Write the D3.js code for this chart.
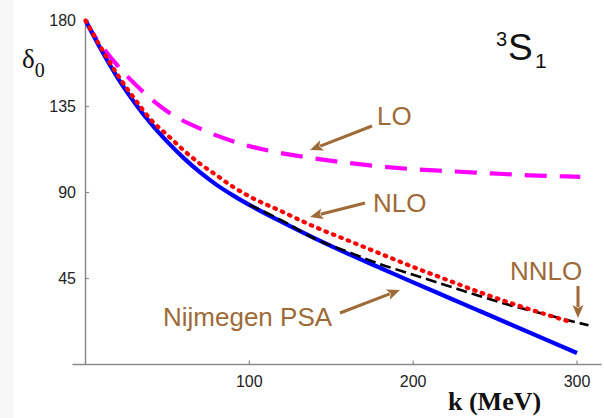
<!DOCTYPE html>
<meta charset="utf-8">
<head>
    <title>3S1 phase shift</title>
    <script src="https://cdn.jsdelivr.net/npm/d3@7/dist/d3.min.js"></script>
    <style>
        body { margin: 0; background: #fff; }
        svg { display: block; }
        .tick-label { font-family: Arial, "Liberation Sans", sans-serif; font-size: 16px; fill: #222; }
        .note { font-family: Arial, "Liberation Sans", sans-serif; font-size: 26px; fill: #9e6a38; }
    </style>
</head>
<body>
<div id="chart"></div>
<script>
    // data (k in MeV, phase shift in degrees)
    const kBlue = [0, 10, 20, 30, 40, 50, 60, 70, 80, 90, 100, 120, 140, 160, 180, 200, 220, 240, 260, 280, 300];
    const nijmegen = [180, 164, 149.5, 137, 126, 116.5, 108, 100.5, 94, 88.5, 83.5, 74.5, 66, 58, 50.5, 43, 35.6, 28.2, 20.8, 13.4, 6];

    const kLO = [0, 4, 17, 33, 50, 71, 93, 114, 136, 158, 181, 203, 226, 248, 271, 294, 302];
    const lo = [180, 174, 159, 144.4, 132.4, 123, 116, 111.5, 108.3, 105.7, 103.6, 102, 101, 100, 99, 98.4, 98.2];

    const kNLO = [0, 10, 20, 30, 40, 50, 60, 70, 80, 90, 100, 120, 140, 160, 180, 200, 220, 240, 260, 280, 297];
    const nlo = [180, 165, 151, 139, 128, 120, 112, 105, 99, 93, 88, 80, 72, 65, 58, 51, 44.5, 38, 32, 26.5, 22];

    const kNNLO = [100, 120, 140, 160, 180, 200, 220, 240, 260, 280, 300, 307];
    const nnlo = [83.6, 75.3, 65.8, 59, 52.5, 47, 41.5, 36, 30.8, 26.4, 22, 20.5];

    const xTicks = [100, 200, 300];
    const yTicks = [45, 90, 135, 180];

    const width = 604, height = 418;
    const brown = "#9e6a38";

    const svg = d3.select("#chart").append("svg")
        .attr("width", width)
        .attr("height", height);

    // faint strip at the left edge
    svg.append("rect").attr("x", 0).attr("y", 0).attr("width", 14).attr("height", height).attr("fill", "#f7f7f7");

    const x = d3.scaleLinear().domain([0, 300]).range([85.5, 577]);
    const y = d3.scaleLinear().domain([0, 180]).range([364.5, 20.5]);

    // axes
    const axisColor = "#8a8a8a";
    svg.append("line")
        .attr("x1", x(-8)).attr("x2", x(315))
        .attr("y1", y(0)).attr("y2", y(0))
        .attr("stroke", axisColor).attr("stroke-width", 1.5);
    svg.append("line")
        .attr("x1", x(0)).attr("x2", x(0))
        .attr("y1", y(0)).attr("y2", y(180))
        .attr("stroke", axisColor).attr("stroke-width", 1.5);

    svg.selectAll(".xt").data(xTicks).enter().append("line")
        .attr("x1", d => x(d)).attr("x2", d => x(d))
        .attr("y1", y(0)).attr("y2", y(0) - 4)
        .attr("stroke", axisColor).attr("stroke-width", 1.2);
    svg.selectAll(".xl").data(xTicks).enter().append("text")
        .attr("class", "tick-label")
        .attr("x", d => x(d)).attr("y", 387)
        .attr("text-anchor", "middle")
        .text(d => d);

    svg.selectAll(".yt").data(yTicks).enter().append("line")
        .attr("x1", x(0)).attr("x2", x(0) + 3.5)
        .attr("y1", d => y(d)).attr("y2", d => y(d))
        .attr("stroke", axisColor).attr("stroke-width", 1.2);
    svg.selectAll(".yl").data(yTicks).enter().append("text")
        .attr("class", "tick-label")
        .attr("x", 76).attr("y", d => y(d))
        .attr("dy", "0.36em")
        .attr("text-anchor", "end")
        .text(d => d);

    // curves
    const line = d3.line()
        .x(d => x(d[0]))
        .y(d => y(d[1]))
        .curve(d3.curveMonotoneX);

    const zip = (ks, vs) => ks.map((k, i) => [k, vs[i]]);

    svg.append("path")
        .attr("d", line(zip(kLO, lo)))
        .attr("fill", "none").attr("stroke", "#ff00ff")
        .attr("stroke-width", 4.2)
        .attr("stroke-dasharray", "22 13");

    svg.append("path")
        .attr("d", line(zip(kBlue, nijmegen)))
        .attr("fill", "none").attr("stroke", "#0000ff")
        .attr("stroke-width", 4.2);

    svg.append("path")
        .attr("d", line(zip(kNNLO, nnlo)))
        .attr("fill", "none").attr("stroke", "#000")
        .attr("stroke-width", 2.6)
        .attr("stroke-dasharray", "11 5");

    svg.append("path")
        .attr("d", line(zip(kNLO, nlo)))
        .attr("fill", "none").attr("stroke", "#ff0000")
        .attr("stroke-width", 4.2)
        .attr("stroke-linecap", "round")
        .attr("stroke-dasharray", "1.5 6.5");

    // annotations
    const notes = [
        { text: "LO", tx: 377, ty: 125, from: [372, 126], to: [310, 150] },
        { text: "NLO", tx: 373, ty: 212, from: [365, 203], to: [310, 217] },
        { text: "NNLO", tx: 510, ty: 280, from: [578, 286], to: [578, 318] },
        { text: "Nijmegen PSA", tx: 163, ty: 326, from: [340, 313], to: [400, 290] }
    ];

    notes.forEach(n => {
        svg.append("text").attr("class", "note")
            .attr("x", n.tx).attr("y", n.ty).text(n.text);
        const dx = n.to[0] - n.from[0], dy = n.to[1] - n.from[1];
        const len = Math.hypot(dx, dy);
        const ux = dx / len, uy = dy / len;
        const head = 13, half = 5.5;
        const bx = n.to[0] - ux * head, by = n.to[1] - uy * head;
        svg.append("line")
            .attr("x1", n.from[0]).attr("y1", n.from[1])
            .attr("x2", bx + ux * 2).attr("y2", by + uy * 2)
            .attr("stroke", brown).attr("stroke-width", 3);
        svg.append("path")
            .attr("d", "M" + n.to[0] + "," + n.to[1]
                + "L" + (bx - uy * half) + "," + (by + ux * half)
                + "L" + (bx + ux * 3) + "," + (by + uy * 3)
                + "L" + (bx + uy * half) + "," + (by - ux * half) + "Z")
            .attr("fill", brown);
    });

    // axis titles
    const yTitle = svg.append("text")
        .attr("x", 22).attr("y", 68)
        .style("font-family", "'Times New Roman', 'Liberation Serif', serif")
        .style("fill", "#111");
    yTitle.append("tspan").style("font-size", "27px").text("δ");
    yTitle.append("tspan").style("font-size", "20px").attr("dy", 9).text("0");

    svg.append("text")
        .attr("x", 448).attr("y", 410)
        .style("font-family", "'Times New Roman', 'Liberation Serif', serif")
        .style("font-weight", "bold")
        .style("font-size", "26px")
        .style("fill", "#111")
        .text("k (MeV)");

    // partial wave label
    const pw = svg.append("g")
        .style("font-family", "Arial, 'Liberation Sans', sans-serif")
        .style("fill", "#111");
    pw.append("text").attr("x", 496).attr("y", 46).style("font-size", "20px").text("3");
    pw.append("text").attr("x", 508).attr("y", 60).style("font-size", "37px").text("S");
    pw.append("text").attr("x", 535).attr("y", 68).style("font-size", "21px").text("1");
</script>
</body>
</html>
